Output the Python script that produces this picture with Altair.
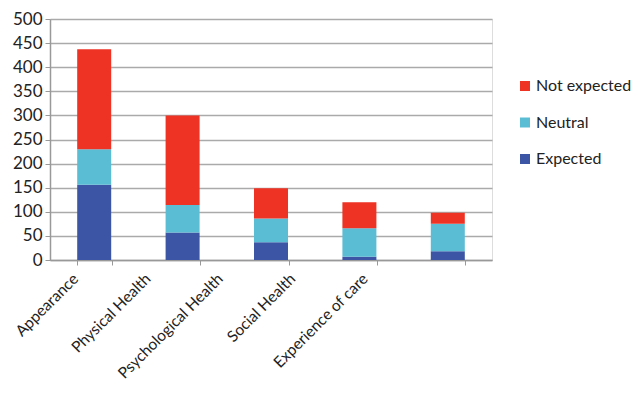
import altair as alt
import pandas as pd

categories = ["Appearance", "Physical Health", "Psychological Health", "Social Health", "Experience of care"]
expected = [156, 57, 37, 7, 18]
neutral = [74, 57, 49, 59, 57]
not_expected = [207, 186, 63, 54, 23]

series = ["Expected", "Neutral", "Not expected"]
rows = []
for i, c in enumerate(categories):
    for k, (s, vals) in enumerate(zip(series, [expected, neutral, not_expected])):
        rows.append({"category": c, "series": s, "value": vals[i], "order": k})
df = pd.DataFrame(rows)

font = "Lato"
chart = alt.Chart(df).mark_bar(size=34).encode(
    x=alt.X("category:N", sort=categories, title=None,
            scale=alt.Scale(paddingInner=0.6, paddingOuter=0.3),
            axis=alt.Axis(labelAngle=-45, labelFontSize=15.5, labelColor="#222222", labelFont=font,
                          tickBand="extent", ticks=True, tickSize=5, tickColor="#999999",
                          domainColor="#999999", domainWidth=1.5, grid=False, labelPadding=6,
                          labelOffset={"condition": {"test": "false", "value": 0},
                                       "expr": "-24 - 64*datum.index"})),
    y=alt.Y("value:Q", stack="zero", title=None,
            scale=alt.Scale(domain=[0, 500], nice=False),
            axis=alt.Axis(values=list(range(0, 501, 50)), labelFontSize=17, labelColor="#222222",
                          labelFont=font, tickSize=5, tickColor="#999999", domainColor="#999999",
                          domainWidth=1.5, gridColor="#AAAAAA", gridWidth=1.5, labelPadding=3)),
    color=alt.Color("series:N",
                    scale=alt.Scale(domain=["Not expected", "Neutral", "Expected"],
                                    range=["#EE3224", "#5BBDD4", "#3C55A5"]),
                    legend=alt.Legend(title=None, orient="none", legendX=467, legendY=59,
                                      symbolType="square", symbolSize=100, symbolStrokeWidth=0,
                                      labelFontSize=16, labelFont=font, labelColor="#222222",
                                      rowPadding=20.5, labelOffset=3)),
    order=alt.Order("order:Q", sort="ascending"),
).properties(
    width=442, height=241,
    autosize=alt.AutoSizeParams(type="none"),
    padding={"left": 42, "top": 11, "right": 140, "bottom": 128},
).configure_view(stroke=None).configure(background="white")

chart.save("out.html", embed_options={"renderer": "svg", "actions": False})
